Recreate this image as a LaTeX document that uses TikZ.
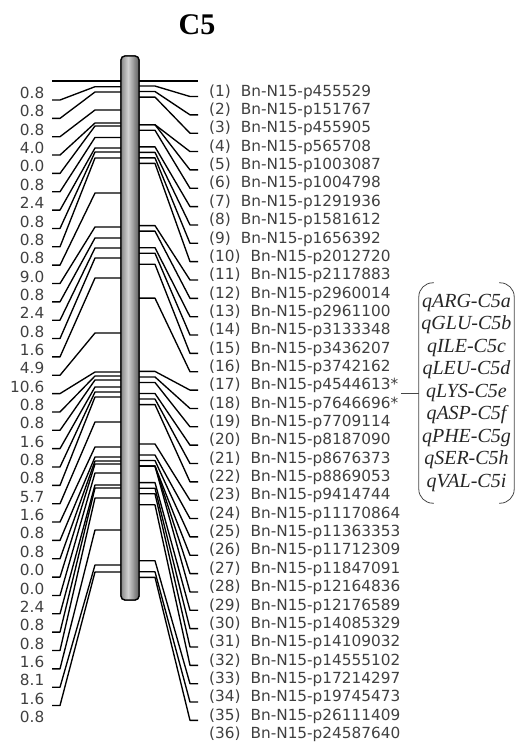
\documentclass[tikz,border=0pt]{standalone}
\usepackage{fontspec}
\setmainfont{DejaVu Sans}
\newfontfamily\serifrm{Liberation Serif}
\usetikzlibrary{positioning}

\tikzset{
  link/.style={line width=1.35pt, line join=round},
  chrom/.style={draw, line width=1.3pt, rounded corners=4pt, minimum width=18pt, minimum height=544pt},
  bracket/.style={draw=gray!55!black, line width=0.8pt},
}

\begin{document}
\begin{tikzpicture}[x=1pt, y=-1pt, every node/.style={inner sep=0pt, font=\fontsize{15.3}{15.3}\selectfont, text=black!75}]
\useasboundingbox (0,0) rectangle (515,742);

\node[font=\serifrm\bfseries\fontsize{30}{30}\selectfont, text=black] (title) at (197,25) {C5};

% left side links
\draw[link] (52,81) -- (121,81);
\foreach \a [count=\i] in {86.7,92,110,123,126,137.5,148,152,158,193,227,238,248,258,278,333,372,376,380,387,392,397,422,447,457,461,464,473,485,488,498,530,565,572}
  \draw[link] (52,{100+(\i-1)*18.35}) -- ++(8,0) -- (95,\a) -- (121,\a);

% right side links (positions in cM)
\draw[link] (139,81) -- (198,81);
\foreach \c [count=\i] in {0.8,1.6,2.4,6.4,6.4,7.2,9.6,10.4,11.2,12.0,21.0,21.8,24.2,25.0,26.6,31.5,42.1,42.9,43.7,45.3,46.1,46.9,52.6,54.2,55.0,55.8,55.8,55.8,58.2,59.0,59.8,61.4,69.5,71.1,71.9}
  \draw[link] (139,{80.5+6.91*\c}) -- ++(16,0) -- (190,{96.5+(\i-1)*18.35}) -- ++(8,0);

% chromosome bar
\node[chrom] (chr) at (130,328) {};
\begin{scope}
  \clip[rounded corners=4pt] (chr.south west) rectangle (chr.north east);
  \foreach \k in {0,...,17} {
    \pgfmathsetmacro\n{int(18+4.2*abs(\k+0.5-7.5))}
    \fill[black!\n] ({121+\k},56) rectangle ({122.2+\k},600);
  }
\end{scope}
\node[chrom] at (chr) {};

% intervals
\foreach \d [count=\i] in {0.8,0.8,0.8,4.0,0.0,0.8,2.4,0.8,0.8,0.8,9.0,0.8,2.4,0.8,1.6,4.9,10.6,0.8,0.8,1.6,0.8,0.8,5.7,1.6,0.8,0.8,0.0,0.0,2.4,0.8,0.8,1.6,8.1,1.6,0.8}
  \node[anchor=east] (d\i) at (44.5,{93+(\i-1)*18.35}) {\d};

% markers
\foreach \m [count=\i] in {p455529,p151767,p455905,p565708,p1003087,p1004798,p1291936,p1581612,p1656392,p2012720,p2117883,p2960014,p2961100,p3133348,p3436207,p3742162,p4544613*,p7646696*,p7709114,p8187090,p8676373,p8869053,p9414744,p11170864,p11363353,p11712309,p11847091,p12164836,p12176589,p14085329,p14109032,p14555102,p17214297,p19745473,p26111409,p24587640}
  \node[anchor=west] (n\i) at (209,{92+(\i-1)*18.35}) {(\i)\hspace{10pt}Bn-N15-\m};

% QTL
\node[font=\serifrm\itshape\fontsize{20}{22.5}\selectfont, text=black!85, align=center, minimum width=95pt, minimum height=220pt] (qtl) at (466.5,393) {qARG-C5a\\qGLU-C5b\\qILE-C5c\\qLEU-C5d\\qLYS-C5e\\qASP-C5f\\qPHE-C5g\\qSER-C5h\\qVAL-C5i};
\draw[bracket, rounded corners=14pt] ([xshift=15pt]qtl.north west) -- (qtl.north west) -- (qtl.south west) -- ([xshift=15pt]qtl.south west);
\draw[bracket, rounded corners=14pt] ([xshift=-15pt]qtl.north east) -- (qtl.north east) -- (qtl.south east) -- ([xshift=-15pt]qtl.south east);
\draw[bracket] ([xshift=3pt]n17.east |- qtl.west) -- (qtl.west);
\end{tikzpicture}
\end{document}
